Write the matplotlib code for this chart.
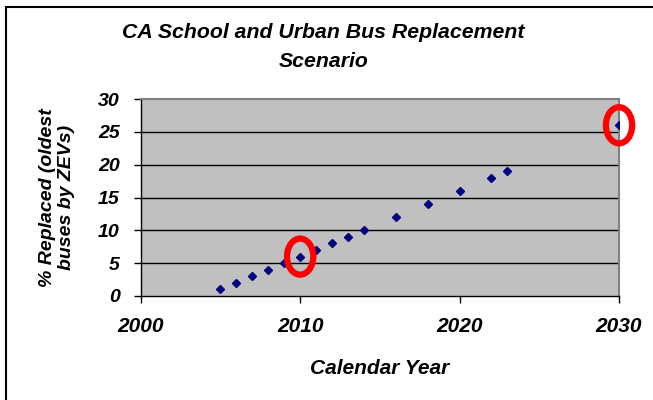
import matplotlib.pyplot as plt
from matplotlib.patches import Ellipse, Rectangle

# data
years = [2005, 2006, 2007, 2008, 2009, 2010, 2011, 2012, 2013, 2014,
         2016, 2018, 2020, 2022, 2023, 2030]
pct_replaced = [1, 2, 3, 4, 5, 6, 7, 8, 9, 10, 12, 14, 16, 18, 19, 26]
highlight_years = [2010, 2030]
highlight_vals = [6, 26]

x_ticks = [2000, 2010, 2020, 2030]
y_ticks = [0, 5, 10, 15, 20, 25, 30]

plt.rcParams["font.family"] = ["Liberation Sans", "DejaVu Sans"]

fig = plt.figure(figsize=(6.53, 4.0), dpi=100)
ax = fig.add_axes([0.2155, 0.26, 0.7325, 0.4925])

ax.set_facecolor("#C0C0C0")
ax.set_xlim(2000, 2030)
ax.set_ylim(0, 30)
ax.set_xticks(x_ticks)
ax.set_yticks(y_ticks)

for y in y_ticks[1:-1]:
    ax.axhline(y, color="black", linewidth=1.0, zorder=1)

ax.plot(years, pct_replaced, linestyle="none", marker="D", markersize=4.5,
        color="#000080", zorder=3)

# red rings around the highlighted points
for hx, hy in zip(highlight_years, highlight_vals):
    ell = Ellipse((hx, hy), width=1.65, height=5.5, fill=False,
                  edgecolor="#FF0000", linewidth=4.5, clip_on=False, zorder=4)
    ax.add_patch(ell)

for side in ["top", "right"]:
    ax.spines[side].set_color("#808080")
    ax.spines[side].set_linewidth(1.5)
for side in ["left", "bottom"]:
    ax.spines[side].set_color("black")
    ax.spines[side].set_linewidth(1.0)

ax.tick_params(direction="out", length=5, width=1)
ax.tick_params(axis="y", pad=10, labelsize=14)
ax.tick_params(axis="x", pad=10, labelsize=15)
for lab in ax.get_xticklabels() + ax.get_yticklabels():
    lab.set_fontweight("bold")
    lab.set_fontstyle("italic")

ax.set_xlabel("Calendar Year", fontsize=15, fontweight="bold",
              fontstyle="italic")
ax.xaxis.set_label_coords(0.5, -0.32)
ax.set_ylabel("% Replaced (oldest\nbuses by ZEVs)", fontsize=14,
              fontweight="bold", fontstyle="italic", linespacing=1.2)
ax.yaxis.set_label_coords(-0.137, 0.5)

fig.text(0.495, 0.8825, "CA School and Urban Bus Replacement\nScenario",
         ha="center", va="center", fontsize=15.3, fontweight="bold",
         fontstyle="italic", linespacing=1.65)

# outer frame of the chart area
fig.patches.append(Rectangle((6 / 653, -0.05), 1.1, 1 - 7 / 400 + 0.05,
                             transform=fig.transFigure, fill=False,
                             edgecolor="black", linewidth=1.5))

fig.savefig("out.png", dpi=100)
